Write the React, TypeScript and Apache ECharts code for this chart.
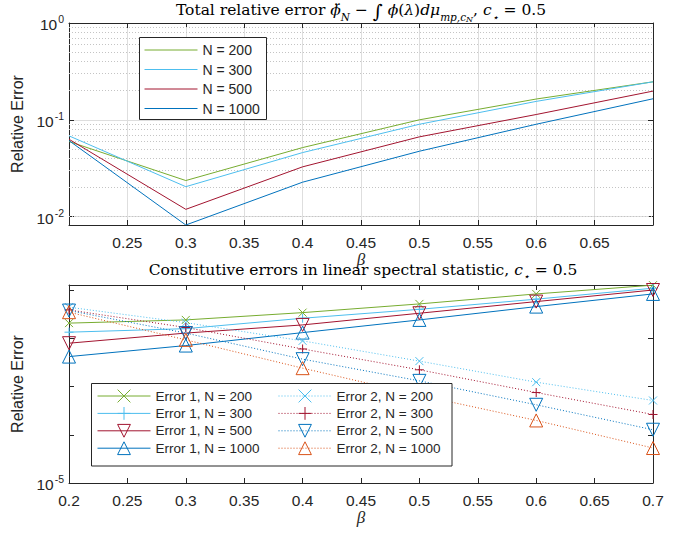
import React, { useEffect, useRef } from 'react';
import * as echarts from 'echarts';

// ---------- data ----------
const beta = [0.2, 0.3, 0.4, 0.5, 0.6, 0.7];

const totalN200 = [0.0597, 0.0236, 0.0517, 0.1, 0.164, 0.247];
const totalN300 = [0.0683, 0.0204, 0.0459, 0.09, 0.155, 0.247];
const totalN500 = [0.063, 0.0119, 0.0327, 0.0667, 0.1135, 0.198];
const totalN1000 = [0.061, 0.0082, 0.0227, 0.0474, 0.09, 0.165];

const err1N200 = [0.0206, 0.024, 0.034, 0.0515, 0.083, 0.126];
const err1N300 = [0.01336, 0.0158, 0.026, 0.0398, 0.0646, 0.109];
const err1N500 = [0.0079, 0.0128, 0.0189, 0.033, 0.0575, 0.1];
const err1N1000 = [0.00417, 0.00706, 0.0131, 0.024, 0.0453, 0.083];
const err2N200 = [0.044, 0.0211, 0.00883, 0.00336, 0.00123, 0.000513];
const err2N300 = [0.0387, 0.0167, 0.006, 0.00222, 0.00075, 0.000263];
const err2N500 = [0.0375, 0.0128, 0.00369, 0.00131, 0.000418, 0.000127];
const err2N1000 = [0.0347, 0.00927, 0.0024, 0.00066, 0.000198, 0.0000531];

const topMinorGrid = [0.009, 0.02, 0.03, 0.04, 0.05, 0.06, 0.07, 0.08, 0.09, 0.2, 0.3, 0.4, 0.5, 0.6, 0.7, 0.8, 0.9];

const topNames = ['N = 200', 'N = 300', 'N = 500', 'N = 1000'];
const err1Names = ['Error 1, N = 200', 'Error 1, N = 300', 'Error 1, N = 500', 'Error 1, N = 1000'];
const err2Names = ['Error 2, N = 200', 'Error 2, N = 300', 'Error 2, N = 500', 'Error 2, N = 1000'];

// ---------- styles ----------
const SANS = '"Liberation Sans", Arial, Helvetica, sans-serif';
const SERIF = '"Liberation Serif", "DejaVu Serif", serif';
const TSERIF = '"DejaVu Serif", "Liberation Serif", serif';
const AX = '#262626';
const GREEN = '#77AC30';
const CYAN = '#4DBEEE';
const RED = '#A2142F';
const BLUE = '#0072BD';
const ORANGE = '#D95319';

const SYM_X = 'path://M0,0L10,10M10,0L0,10';
const SYM_PLUS = 'path://M5,0L5,10M0,5L10,5';
const SYM_DOWN = 'path://M0,0L10,0L5,9Z';
const SYM_UP = 'path://M5,0L10,9L0,9Z';

const pairs = (ys: number[]) => beta.map((b, i) => [b, ys[i]]);

const xFmt = (v: number) => String(Math.round(v * 100) / 100);

const logFmt = (only?: number) => (v: number) => {
  const e = Math.log10(v);
  const r = Math.round(e);
  if (Math.abs(e - r) > 1e-6) return '';
  if (only !== undefined && r !== only) return '';
  return `{b|10}{s|${r}}`;
};

const logRich = {
  b: { fontSize: 15.5, fontFamily: SANS, color: AX, verticalAlign: 'bottom', padding: [0, 0, 0, 0] },
  s: { fontSize: 10.5, fontFamily: SANS, color: AX, verticalAlign: 'bottom', padding: [0, 0, 8, 1] },
};

function xAxis(gridIndex: number, position: 'top' | 'bottom', labels: boolean, hideEnds: boolean, grid: boolean, withName: boolean) {
  return {
    type: 'value',
    gridIndex,
    position,
    min: 0.2,
    max: 0.7,
    interval: 0.05,
    name: withName ? 'β' : '',
    nameLocation: 'middle',
    nameGap: gridIndex === 0 ? 24 : 26,
    nameTextStyle: { fontFamily: SERIF, fontStyle: 'italic', fontSize: 17, color: AX, verticalAlign: 'top' },
    axisLine: { show: true, onZero: false, lineStyle: { color: AX, width: 1 } },
    axisTick: { show: true, inside: true, length: 5, lineStyle: { color: AX, width: 1 } },
    axisLabel: {
      show: labels,
      margin: 9,
      fontFamily: SANS,
      fontSize: 15.5,
      color: AX,
      formatter: xFmt,
      showMinLabel: !hideEnds,
      showMaxLabel: !hideEnds,
    },
    splitLine: { show: grid, lineStyle: { color: '#dedede', width: 1 } },
  };
}

function yAxis(gridIndex: number, position: 'left' | 'right', min: number, max: number, labels: boolean, grid: boolean, only?: number) {
  return {
    type: 'log',
    logBase: 10,
    gridIndex,
    position,
    min,
    max,
    name: position === 'left' ? 'Relative Error' : '',
    nameLocation: 'middle',
    nameGap: 39,
    nameTextStyle: { fontFamily: SANS, fontSize: 16, color: AX },
    axisLine: { show: true, onZero: false, lineStyle: { color: AX, width: 1 } },
    axisTick: { show: true, inside: true, length: 5, lineStyle: { color: AX, width: 1 } },
    axisLabel: {
      show: labels,
      margin: 5,
      formatter: logFmt(only),
      rich: logRich,
      showMinLabel: true,
      showMaxLabel: true,
    },
    splitLine: { show: grid, lineStyle: { color: '#dedede', width: 1 } },
    minorTick: { show: false },
  };
}

function topSeries(name: string, ys: number[], color: string, extra?: any) {
  return {
    type: 'line',
    name,
    xAxisIndex: 0,
    yAxisIndex: 0,
    data: pairs(ys),
    symbol: 'none',
    lineStyle: { color, width: 1 },
    itemStyle: { color },
    emphasis: { disabled: true },
    z: 2,
    ...extra,
  };
}

function botSeries(name: string, ys: number[], color: string, symbol: string, size: number, dotted: boolean) {
  return {
    type: 'line',
    name,
    xAxisIndex: 2,
    yAxisIndex: 2,
    data: pairs(ys),
    symbol,
    symbolSize: size,
    showAllSymbol: true,
    lineStyle: { color, width: 1, type: dotted ? [1, 2] : 'solid' },
    itemStyle: { color: 'rgba(0,0,0,0)', borderColor: color, borderWidth: 1 },
    emphasis: { disabled: true },
    z: 2,
  };
}

const titleTop =
  '{n|Total relative error }{i|ϕ̈}{sub|N}{n| − }{int|∫}{n| }{i|ϕ}{n|(}{i|λ}{n|)}{i|dμ}{sub|mp,c}{subsub|N}{n|, }{i|c}{sub|⋆}{n| = 0.5}';
const titleBot = '{n|Constitutive errors in linear spectral statistic, }{i|c}{sub|⋆}{n| = 0.5}';

const titleRich = {
  n: { fontFamily: TSERIF, fontSize: 15.5, fill: '#000', verticalAlign: 'bottom', padding: [0, 0, 5, 0] },
  i: { fontFamily: TSERIF, fontStyle: 'italic', fontSize: 15.5, fill: '#000', verticalAlign: 'bottom', padding: [0, 0, 5, 0] },
  int: { fontFamily: TSERIF, fontSize: 19, fill: '#000', verticalAlign: 'bottom', padding: [0, 0, 3, 0] },
  sub: { fontFamily: TSERIF, fontStyle: 'italic', fontSize: 10.5, fill: '#000', verticalAlign: 'bottom', padding: [0, 0, 1, 0] },
  subsub: { fontFamily: TSERIF, fontStyle: 'italic', fontSize: 8, fill: '#000', verticalAlign: 'bottom', padding: [0, 0, 0, 0] },
};

export default function App() {
  const ref = useRef<HTMLDivElement>(null);
  useEffect(() => {
    if (!ref.current) return;
    const chart = echarts.init(ref.current, undefined, { renderer: 'svg' });
    const option: any = {
      animation: false,
      backgroundColor: '#ffffff',
      grid: [
        { left: 69, top: 23, right: 33, height: 202 },
        { left: 69, top: 285, right: 33, height: 198 },
      ],
      xAxis: [
        xAxis(0, 'bottom', true, true, true, true),
        xAxis(0, 'top', false, true, false, false),
        xAxis(1, 'bottom', true, false, false, true),
        xAxis(1, 'top', false, false, false, false),
      ],
      yAxis: [
        yAxis(0, 'left', 0.0082, 1, true, true),
        yAxis(0, 'right', 0.0082, 1, false, false),
        yAxis(1, 'left', 0.00001, 0.127, true, false, -5),
        yAxis(1, 'right', 0.00001, 0.127, false, false),
      ],
      legend: [
        {
          data: topNames,
          orient: 'vertical',
          left: 144,
          top: 43,
          padding: 0,
          itemWidth: 53,
          itemHeight: 14,
          itemGap: 5.5,
          textStyle: { fontFamily: SANS, fontSize: 14, color: AX, padding: [0, 0, 0, 0] },
          itemStyle: { opacity: 0, borderWidth: 0 },
          lineStyle: { width: 1 },
          selectedMode: false,
          z: 5,
        },
        {
          data: err1Names,
          orient: 'vertical',
          left: 97,
          top: 389,
          padding: 0,
          itemWidth: 53,
          itemHeight: 16,
          itemGap: 3.4,
          textStyle: { fontFamily: SANS, fontSize: 13.5, color: AX },
          itemStyle: { borderWidth: 1 },
          lineStyle: { width: 1 },
          selectedMode: false,
          z: 5,
        },
        {
          data: err2Names,
          orient: 'vertical',
          left: 278,
          top: 389,
          padding: 0,
          itemWidth: 53,
          itemHeight: 16,
          itemGap: 3.4,
          textStyle: { fontFamily: SANS, fontSize: 13.5, color: AX },
          itemStyle: { borderWidth: 1 },
          lineStyle: { width: 1 },
          selectedMode: false,
          z: 5,
        },
      ],
      graphic: [
        {
          type: 'rect',
          z: 3,
          shape: { x: 139.5, y: 37.5, width: 127, height: 82 },
          style: { fill: '#ffffff', stroke: AX, lineWidth: 1 },
          silent: true,
        },
        {
          type: 'rect',
          z: 3,
          shape: { x: 91.5, y: 383.5, width: 360.5, height: 82.5 },
          style: { fill: '#ffffff', stroke: AX, lineWidth: 1 },
          silent: true,
        },
        {
          type: 'text',
          z: 10,
          x: 361,
          y: 12,
          style: { text: titleTop, rich: titleRich, align: 'center', verticalAlign: 'middle', fill: '#000' },
          silent: true,
        },
        {
          type: 'text',
          z: 10,
          x: 363,
          y: 272,
          style: { text: titleBot, rich: titleRich, align: 'center', verticalAlign: 'middle', fill: '#000' },
          silent: true,
        },
      ],
      series: [
        topSeries(topNames[0], totalN200, GREEN, {
          markLine: {
            silent: true,
            z: 1,
            symbol: ['none', 'none'],
            label: { show: false },
            lineStyle: { type: [1, 2], color: '#c4c4c4', width: 1 },
            emphasis: { disabled: true },
            data: topMinorGrid.map((v) => ({ yAxis: v })),
          },
        }),
        topSeries(topNames[1], totalN300, CYAN),
        topSeries(topNames[2], totalN500, RED),
        topSeries(topNames[3], totalN1000, BLUE),
        botSeries(err1Names[0], err1N200, GREEN, SYM_X, 8, false),
        botSeries(err1Names[1], err1N300, CYAN, SYM_PLUS, 9, false),
        botSeries(err1Names[2], err1N500, RED, SYM_DOWN, 13, false),
        botSeries(err1Names[3], err1N1000, BLUE, SYM_UP, 13, false),
        botSeries(err2Names[0], err2N200, CYAN, SYM_X, 8, true),
        botSeries(err2Names[1], err2N300, RED, SYM_PLUS, 9, true),
        botSeries(err2Names[2], err2N500, BLUE, SYM_DOWN, 13, true),
        botSeries(err2Names[3], err2N1000, ORANGE, SYM_UP, 13, true),
      ],
    };
    chart.setOption(option);
    return () => chart.dispose();
  }, []);
  return <div ref={ref} style={{ position: 'fixed', left: 0, top: 0, width: 686, height: 537 }} />;
}
